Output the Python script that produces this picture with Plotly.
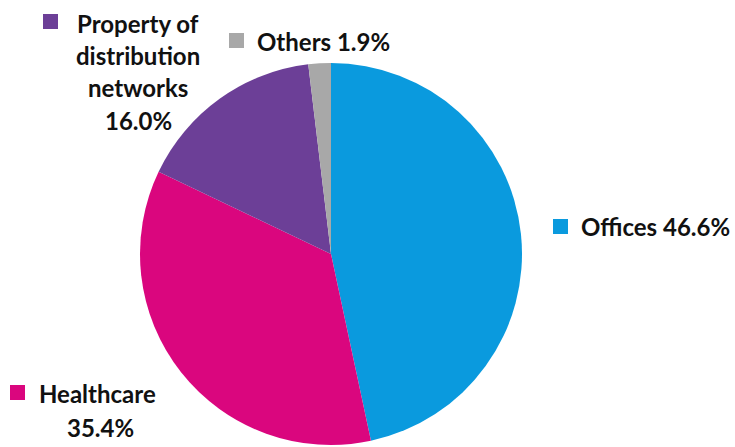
import plotly.graph_objects as go

# Portfolio split by asset class
categories = ["Offices", "Healthcare", "Property of distribution networks", "Others"]
shares = [46.6, 35.4, 16.0, 1.9]
colors = ["#0A9ADE", "#DA067E", "#6C3F97", "#A8A8A8"]

W, H = 735, 447

def px_x(x):
    return x / W

def px_y(y):
    return 1 - y / H

fig = go.Figure()

# Pie centred near (331, 254) with radius about 191 px
cx, cy, r = 331, 254, 191
fig.add_trace(go.Pie(
    labels=categories,
    values=shares,
    sort=False,
    direction="clockwise",
    rotation=0,
    marker=dict(colors=colors, line=dict(width=0)),
    textinfo="none",
    hoverinfo="label+value",
    showlegend=False,
    domain=dict(x=[px_x(cx - r), px_x(cx + r)], y=[px_y(cy + r), px_y(cy - r)]),
))

FONT = dict(family="Lato, 'Open Sans', sans-serif", size=24, color="#111111")

def label_lines(lines, x, y0, step, anchor):
    for i, t in enumerate(lines):
        fig.add_annotation(
            x=px_x(x), y=px_y(y0 + i * step), xref="paper", yref="paper",
            text="<b>%s</b>" % t, showarrow=False, font=FONT,
            xanchor=anchor, yanchor="middle",
        )

def swatch(x0, y0, color, size=15):
    fig.add_shape(
        type="rect", xref="paper", yref="paper",
        x0=px_x(x0), x1=px_x(x0 + size), y0=px_y(y0 + size), y1=px_y(y0),
        fillcolor=color, line=dict(width=0),
    )

# Offices
swatch(553, 219, colors[0])
label_lines(["%s %.1f%%" % (categories[0], shares[0])], 579, 226, 0, "left")

# Others
swatch(229, 33, colors[3])
label_lines(["%s %.1f%%" % (categories[3], shares[3])], 255, 42, 0, "left")

# Property of distribution networks
swatch(43, 14, colors[2])
label_lines(["Property of", "distribution", "networks", "%.1f%%" % shares[2]], 138, 23, 32.5, "center")

# Healthcare
swatch(10, 385, colors[1])
label_lines([categories[1]], 37, 393, 0, "left")
label_lines(["%.1f%%" % shares[1]], 100, 427, 0, "center")

fig.update_layout(
    width=W, height=H,
    margin=dict(l=0, r=0, t=0, b=0),
    paper_bgcolor="white",
    plot_bgcolor="white",
)

fig.write_html("out.html")
